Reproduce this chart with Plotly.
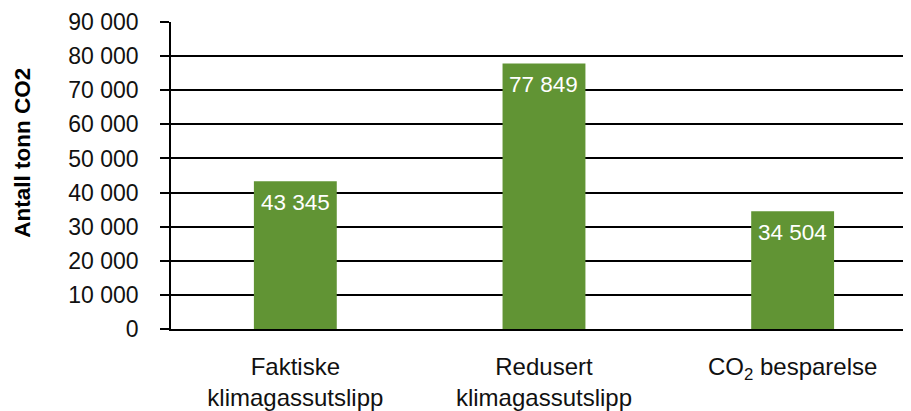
import plotly.graph_objects as go

categories = ["Faktiske klimagassutslipp", "Redusert klimagassutslipp", "CO2 besparelse"]
tick_labels = ["Faktiske<br>klimagassutslipp", "Redusert<br>klimagassutslipp", "CO<sub>2</sub> besparelse"]
values = [43345, 77849, 34504]
y_ticks = [0, 10000, 20000, 30000, 40000, 50000, 60000, 70000, 80000, 90000]

FONT = "Liberation Sans, Arial, sans-serif"
GREEN = "#619434"

n = len(categories)
x_range = [-0.5, n - 0.5 - 0.024]
minor_ticks = [-0.5 + k / 3 for k in range(3 * n + 1)]

fig = go.Figure()
fig.add_trace(go.Bar(
    x=categories, y=values,
    marker=dict(color=GREEN, line=dict(width=0)),
    width=1 / 3,
    hoverinfo="skip",
))

value_labels = [dict(
    x=c, y=v, xref="x", yref="y",
    text=f"{v:,}".replace(",", " "),
    showarrow=False, yanchor="top", xanchor="center", yshift=-7,
    font=dict(color="white", size=22.5, family=FONT),
) for c, v in zip(categories, values)]

title_ann = dict(
    text="<b>Antall tonn CO2</b>",
    xref="paper", yref="paper",
    x=-0.2, y=0.574,
    xanchor="center", yanchor="middle",
    textangle=-90, showarrow=False,
    font=dict(size=22.5, family=FONT, color="black"),
)

fig.update_layout(
    width=903, height=403,
    margin=dict(l=163, r=0, t=14, b=80),
    paper_bgcolor="white", plot_bgcolor="white",
    separators=", ",
    showlegend=False,
    font=dict(family=FONT, color="black", size=22),
    xaxis=dict(
        type="category",
        range=x_range,
        tickvals=categories,
        ticktext=tick_labels,
        ticks="",
        showgrid=False,
        showline=True, linecolor="black", linewidth=1.6,
        tickfont=dict(size=24, color="#111111"),
        ticklabelstandoff=15,
        fixedrange=True,
    ),
    xaxis2=dict(
        overlaying="x", anchor="y", side="bottom",
        range=x_range,
        tickvals=minor_ticks,
        ticks="outside", ticklen=9, tickwidth=1.6, tickcolor="black",
        showticklabels=False, showgrid=False, showline=False, zeroline=False,
    ),
    yaxis=dict(
        range=[0, 90000],
        tickvals=y_ticks,
        tickformat=",d",
        ticks="outside", ticklen=9, tickwidth=1.6, tickcolor="black",
        showline=True, linecolor="black", linewidth=1.6,
        showgrid=True, gridcolor="black", gridwidth=1.6,
        zeroline=False,
        tickfont=dict(size=23, color="#111111"),
        ticklabelstandoff=17,
    ),
    annotations=value_labels + [title_ann],
)

fig.write_html("out.html")
